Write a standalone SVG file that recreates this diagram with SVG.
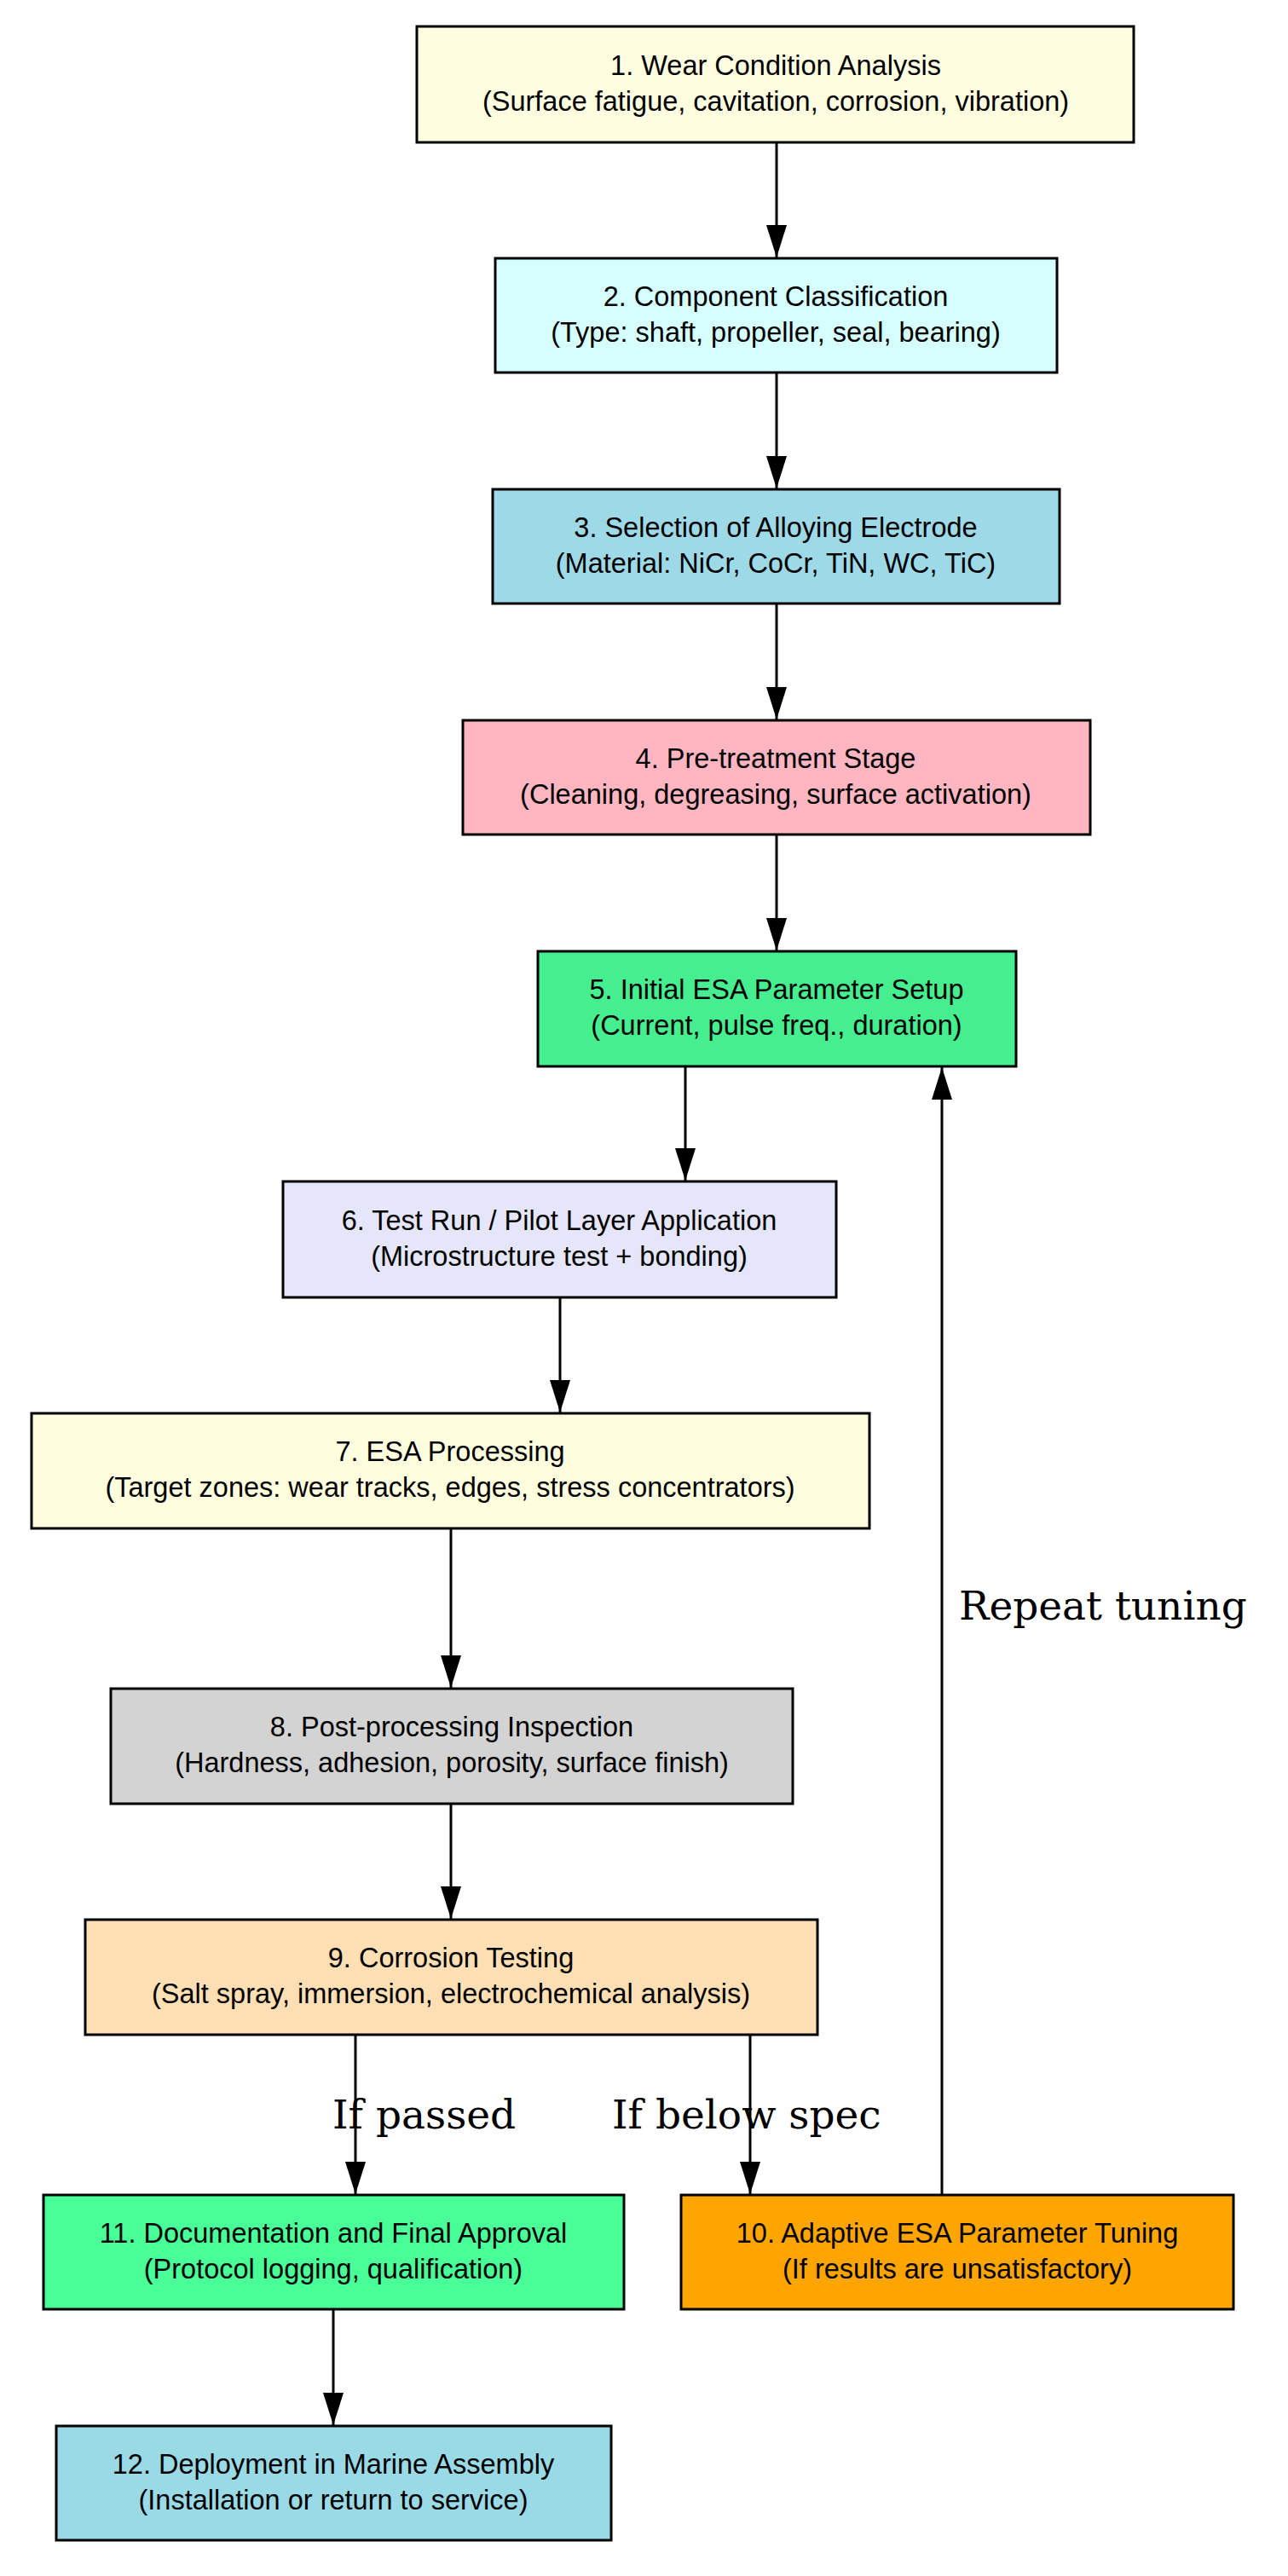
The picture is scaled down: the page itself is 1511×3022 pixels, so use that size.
<svg xmlns="http://www.w3.org/2000/svg" width="1511" height="3022" viewBox="0 0 1511 3022">
<style>
.n rect{stroke:#000;stroke-width:3}
.n text{font-family:"Liberation Sans",Arial,sans-serif;font-size:32.5px;text-anchor:middle;fill:#000}
.c line{stroke:#000;stroke-width:3}
.l{font-family:"DejaVu Serif",serif;font-size:47px;fill:#000}
</style>
<defs><marker id="a" markerWidth="38" markerHeight="24" refX="38" refY="12" orient="auto" markerUnits="userSpaceOnUse" viewBox="0 0 38 24"><path d="M0,0 L38,12 L0,24 Z" fill="#000"/></marker></defs>
<rect width="1511" height="3022" fill="#fff"/>
<g class="c">
<line x1="911" y1="167" x2="911" y2="302" marker-end="url(#a)"/>
<line x1="911" y1="437" x2="911" y2="573" marker-end="url(#a)"/>
<line x1="911" y1="708" x2="911" y2="844" marker-end="url(#a)"/>
<line x1="911" y1="979" x2="911" y2="1115" marker-end="url(#a)"/>
<line x1="804" y1="1251" x2="804" y2="1385" marker-end="url(#a)"/>
<line x1="657" y1="1522" x2="657" y2="1657" marker-end="url(#a)"/>
<line x1="529" y1="1793" x2="529" y2="1980" marker-end="url(#a)"/>
<line x1="529" y1="2116" x2="529" y2="2251" marker-end="url(#a)"/>
<line x1="417" y1="2387" x2="417" y2="2574" marker-end="url(#a)"/>
<line x1="880" y1="2387" x2="880" y2="2574" marker-end="url(#a)"/>
<line x1="1105" y1="2575" x2="1105" y2="1252" marker-end="url(#a)"/>
<line x1="391" y1="2709" x2="391" y2="2845" marker-end="url(#a)"/>
<text class="l" x="1125" y="1900">Repeat tuning</text>
<text class="l" x="390" y="2497">If passed</text>
<text class="l" x="718" y="2497">If below spec</text>
</g>
<g id="n1" class="n"><rect x="489" y="31" width="841" height="136" fill="#FFFEE0"/><text x="910" y="88">1. Wear Condition Analysis</text><text x="910" y="130">(Surface fatigue, cavitation, corrosion, vibration)</text></g>
<g id="n2" class="n"><rect x="581" y="303" width="659" height="134" fill="#D6FFFF"/><text x="910" y="359">2. Component Classification</text><text x="910" y="401">(Type: shaft, propeller, seal, bearing)</text></g>
<g id="n3" class="n"><rect x="578" y="574" width="665" height="134" fill="#9DD9E6"/><text x="910" y="630">3. Selection of Alloying Electrode</text><text x="910" y="672">(Material: NiCr, CoCr, TiN, WC, TiC)</text></g>
<g id="n4" class="n"><rect x="543" y="845" width="736" height="134" fill="#FFB6C1"/><text x="910" y="901">4. Pre-treatment Stage</text><text x="910" y="943">(Cleaning, degreasing, surface activation)</text></g>
<g id="n5" class="n"><rect x="631" y="1116" width="561" height="135" fill="#45EF8F"/><text x="911" y="1172">5. Initial ESA Parameter Setup</text><text x="911" y="1214">(Current, pulse freq., duration)</text></g>
<g id="n6" class="n"><rect x="332" y="1386" width="649" height="136" fill="#E6E6FA"/><text x="656" y="1443">6. Test Run / Pilot Layer Application</text><text x="656" y="1485">(Microstructure test + bonding)</text></g>
<g id="n7" class="n"><rect x="37" y="1658" width="983" height="135" fill="#FFFFE0"/><text x="528" y="1714">7. ESA Processing</text><text x="528" y="1756">(Target zones: wear tracks, edges, stress concentrators)</text></g>
<g id="n8" class="n"><rect x="130" y="1981" width="800" height="135" fill="#D3D3D3"/><text x="530" y="2037">8. Post-processing Inspection</text><text x="530" y="2079">(Hardness, adhesion, porosity, surface finish)</text></g>
<g id="n9" class="n"><rect x="100" y="2252" width="859" height="135" fill="#FFDFB3"/><text x="529" y="2308">9. Corrosion Testing</text><text x="529" y="2350">(Salt spray, immersion, electrochemical analysis)</text></g>
<g id="n11" class="n"><rect x="51" y="2575" width="681" height="134" fill="#48FF98"/><text x="391" y="2631">11. Documentation and Final Approval</text><text x="391" y="2673">(Protocol logging, qualification)</text></g>
<g id="n10" class="n"><rect x="799" y="2575" width="648" height="134" fill="#FFA500"/><text x="1123" y="2631">10. Adaptive ESA Parameter Tuning</text><text x="1123" y="2673">(If results are unsatisfactory)</text></g>
<g id="n12" class="n"><rect x="66" y="2846" width="651" height="134" fill="#9ADAE6"/><text x="391" y="2902">12. Deployment in Marine Assembly</text><text x="391" y="2944">(Installation or return to service)</text></g>
</svg>
